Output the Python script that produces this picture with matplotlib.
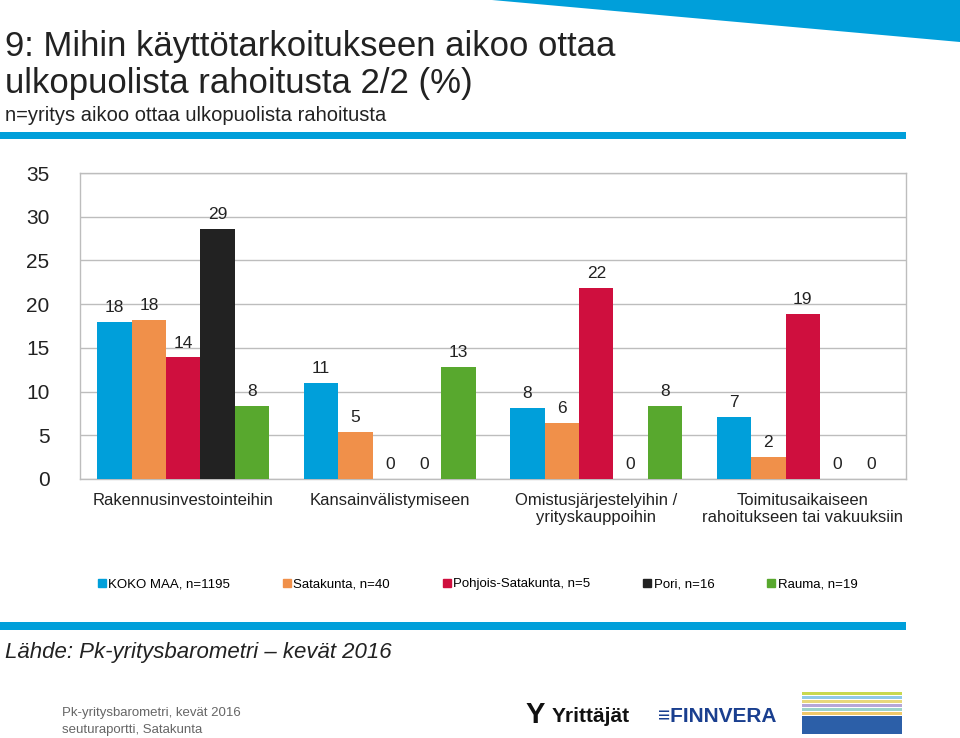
import matplotlib
matplotlib.use("Agg")
import matplotlib.pyplot as plt
import numpy as np
from matplotlib.patches import Polygon, Rectangle
from matplotlib.lines import Line2D

categories = ["Rakennusinvestointeihin", "Kansainvälistymiseen",
              "Omistusjärjestelyihin /\nyrityskauppoihin",
              "Toimitusaikaiseen\nrahoitukseen tai vakuuksiin"]
series_names = ["KOKO MAA, n=1195", "Satakunta, n=40", "Pohjois-Satakunta, n=5",
                "Pori, n=16", "Rauma, n=19"]
koko_maa = [18.0, 11.0, 8.1, 7.1]
satakunta = [18.2, 5.4, 6.4, 2.5]
pohjois = [13.9, 0.0, 21.8, 18.9]
pori = [28.6, 0.0, 0.0, 0.0]
rauma = [8.4, 12.8, 8.3, 0.0]
labels_koko = ["18", "11", "8", "7"]
labels_sata = ["18", "5", "6", "2"]
labels_pohj = ["14", "0", "22", "19"]
labels_pori = ["29", "0", "0", "0"]
labels_rauma = ["8", "13", "8", "0"]
yticks = [0, 5, 10, 15, 20, 25, 30, 35]

colors = ["#009FDA", "#F0904A", "#CF0F3E", "#222222", "#58A82E"]
sans = ["Liberation Sans", "DejaVu Sans"]

W, H = 960, 738
fig = plt.figure(figsize=(W / 100, H / 100), dpi=100)

# decorative background
bg = fig.add_axes([0, 0, 1, 1])
bg.set_xlim(0, W)
bg.set_ylim(H, 0)
bg.axis("off")
bg.add_patch(Polygon([[492, 0], [960, 0], [960, 42]], closed=True, color="#009FDA", lw=0))
bg.add_patch(Rectangle((0, 132), 906, 7, color="#009FDA", lw=0))
bg.add_patch(Rectangle((0, 622), 906, 8, color="#009FDA", lw=0))

fig.text(5 / W, 1 - 56 / H, "9: Mihin käyttötarkoitukseen aikoo ottaa", family=sans,
         fontsize=25, color="#222222", va="baseline")
fig.text(5 / W, 1 - 93 / H, "ulkopuolista rahoitusta 2/2 (%)", family=sans,
         fontsize=25, color="#222222", va="baseline")
fig.text(5 / W, 1 - 121 / H, "n=yritys aikoo ottaa ulkopuolista rahoitusta", family=sans,
         fontsize=14.5, color="#222222", va="baseline")
fig.text(5 / W, 1 - 658 / H, "Lähde: Pk-yritysbarometri – kevät 2016", family=sans,
         fontsize=16, style="italic", color="#222222", va="baseline")
fig.text(62 / W, 1 - 716 / H, "Pk-yritysbarometri, kevät 2016", family=sans,
         fontsize=9.5, color="#666666", va="baseline")
fig.text(62 / W, 1 - 733 / H, "seuturaportti, Satakunta", family=sans,
         fontsize=9.5, color="#666666", va="baseline")
# logos (approximated as text / shapes)
fig.text(526 / W, 1 - 723 / H, "Y", family=sans, fontsize=21, weight="bold", color="#111111", va="baseline")
fig.text(552 / W, 1 - 722 / H, "Yrittäjät", family=sans, fontsize=15, weight="bold", color="#111111", va="baseline")
fig.text(658 / W, 1 - 722 / H, "≡FINNVERA", family=sans, fontsize=15, weight="bold", color="#1a3f8f", va="baseline")
stripe_cols = ["#c9d94f", "#8fc9e8", "#e8d87a", "#b6a7d6", "#9bd3c9", "#f0c96a"]
for i, c in enumerate(stripe_cols):
    bg.add_patch(Rectangle((802, 692 + i * 4), 100, 3, color=c, lw=0))
bg.add_patch(Rectangle((802, 716), 100, 18, color="#2c5fa8", lw=0))

# main chart
ax = fig.add_axes([80 / W, 1 - 479 / H, 826 / W, 306 / H])
x = np.arange(len(categories))
bw = 0.1667
data = [koko_maa, satakunta, pohjois, pori, rauma]
labs = [labels_koko, labels_sata, labels_pohj, labels_pori, labels_rauma]
for i, (vals, lab, col, name) in enumerate(zip(data, labs, colors, series_names)):
    bars = ax.bar(x + (i - 2) * bw, vals, width=bw, color=col, label=name, zorder=3)
    ax.bar_label(bars, labels=lab, padding=5, fontsize=12.5, family=sans, color="#222222")

ax.set_xlim(-0.5, 3.5)
ax.set_ylim(0, 35)
ax.set_yticks(yticks)
ax.set_yticklabels([str(t) for t in yticks], family=sans, fontsize=15, color="#222222")
ax.set_xticks(x)
ax.set_xticklabels(categories, family=sans, fontsize=12, color="#222222")
ax.tick_params(axis="y", length=0, pad=22)
ax.tick_params(axis="x", length=0, pad=10)
ax.grid(axis="y", color="#BDBDBD", lw=1, zorder=0)
for s in ax.spines.values():
    s.set_color("#BDBDBD")
    s.set_linewidth(1)

handles = [Line2D([0], [0], marker="s", ls="", color=c, markersize=6) for c in colors]
fig.legend(handles, series_names, loc="center left", bbox_to_anchor=(95 / W, 1 - 584 / H),
           ncol=5, frameon=False, prop={"family": sans, "size": 9.5},
           handletextpad=0.0, columnspacing=3.8, handlelength=1.0, borderaxespad=0, borderpad=0)

fig.savefig("out.png", dpi=100, facecolor="white")
